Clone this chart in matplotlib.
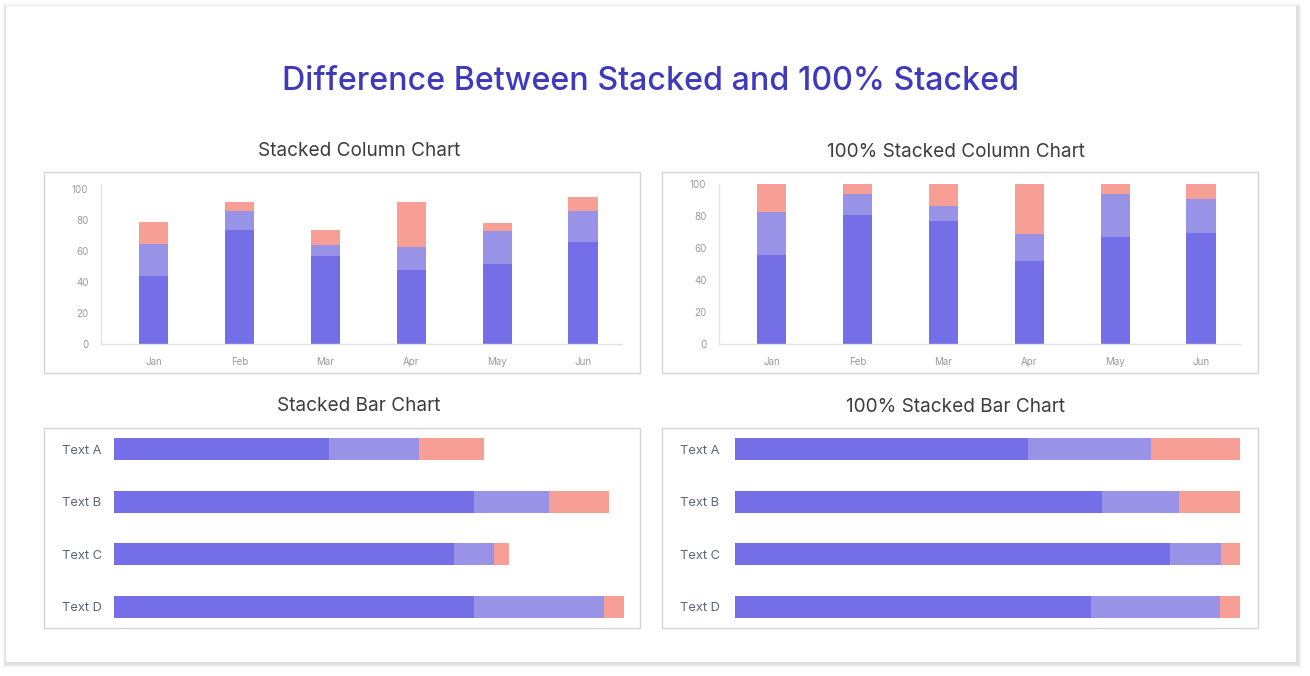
import matplotlib.pyplot as plt
import numpy as np
from matplotlib.patches import Rectangle

plt.rcParams['font.family'] = ['Inter', 'DejaVu Sans']

months = ["Jan", "Feb", "Mar", "Apr", "May", "Jun"]
col_s1 = [44, 74, 57, 48, 52, 66]
col_s2 = [21, 12, 7, 15, 21, 20]
col_s3 = [14, 6, 10, 29, 5, 9]

rows = ["Text A", "Text B", "Text C", "Text D"]
bar_s1 = [43, 72, 68, 72]
bar_s2 = [18, 15, 8, 26]
bar_s3 = [13, 12, 3, 4]

C1 = "#746FE6"
C2 = "#9893E7"
C3 = "#F79F95"
TITLE_C = "#3F3ABD"

W, H = 1310, 676
fig = plt.figure(figsize=(W / 100, H / 100), dpi=100)
fig.patch.set_facecolor("white")


def box(l, t, r, b):
    # pixel box -> figure fraction [x, y, w, h]
    return [l / W, 1 - b / H, (r - l) / W, (b - t) / H]


# card shadow and card
for i, a in enumerate([0.05, 0.035, 0.025, 0.015]):
    d = i + 1
    fig.patches.append(Rectangle(((6 - d) / W, 1 - (662 + d + 2) / H), (1290 + 2 * d + 2) / W, (656 + 2 * d + 1) / H,
                                 transform=fig.transFigure, facecolor="black", alpha=a,
                                 edgecolor="none", zorder=-2))
fig.patches.append(Rectangle((6 / W, 1 - 662 / H), 1290 / W, 656 / H, transform=fig.transFigure,
                             facecolor="white", edgecolor="none", zorder=-1))

fig.text(651 / W, 1 - 82 / H, "Difference Between Stacked and 100% Stacked", ha="center", va="center",
         fontsize=23.2, color=TITLE_C, fontweight="medium")

subtitles = [(359, 151, "Stacked Column Chart"), (956, 152, "100% Stacked Column Chart"),
             (359, 406, "Stacked Bar Chart"), (956, 407, "100% Stacked Bar Chart")]
for px, py, s in subtitles:
    fig.text(px / W, 1 - py / H, s, ha="center", va="center", fontsize=13.7, color="#3d3d3d")

# panel frames
for l, t, r, b in [(44, 172, 640, 373), (662, 172, 1258, 373), (44, 428, 640, 628), (662, 428, 1258, 628)]:
    fig.patches.append(Rectangle((l / W, 1 - b / H), (r - l) / W, (b - t) / H, transform=fig.transFigure,
                                 facecolor="none", edgecolor="#d4d4d4", linewidth=1, zorder=0))

s1 = np.array(col_s1, float)
s2 = np.array(col_s2, float)
s3 = np.array(col_s3, float)
tot = s1 + s2 + s3
x = np.arange(len(months))


def column_chart(ax, a, b, c, ymax):
    ax.bar(x, a, width=0.34, color=C1)
    ax.bar(x, b, width=0.34, bottom=a, color=C2)
    ax.bar(x, c, width=0.34, bottom=a + b, color=C3)
    ax.set_xlim(-0.614, 5.455)
    ax.set_ylim(0, ymax)
    ax.set_yticks([0, 20, 40, 60, 80, 100])
    ax.set_xticks(x)
    ax.set_xticklabels(months)
    for sp in ["top", "right"]:
        ax.spines[sp].set_visible(False)
    for sp in ["left", "bottom"]:
        ax.spines[sp].set_color("#e4e4e4")
        ax.spines[sp].set_linewidth(1)
    ax.tick_params(length=0, labelsize=7, labelcolor="#9a9a9a")
    ax.tick_params(axis="y", pad=9)
    ax.tick_params(axis="x", pad=9)
    ax.set_facecolor("none")
    ax.set_zorder(2)


ax1 = fig.add_axes(box(101, 184, 622, 344))
column_chart(ax1, s1, s2, s3, 103.5)

ax2 = fig.add_axes(box(719, 184, 1240, 344))
column_chart(ax2, s1 / tot * 100, s2 / tot * 100, s3 / tot * 100, 100)

b1 = np.array(bar_s1, float)
b2 = np.array(bar_s2, float)
b3 = np.array(bar_s3, float)
btot = b1 + b2 + b3
y = np.arange(len(rows))


def bar_chart(ax, a, b, c, xmax, pad):
    ax.barh(y, a, height=0.42, color=C1)
    ax.barh(y, b, height=0.42, left=a, color=C2)
    ax.barh(y, c, height=0.42, left=a + b, color=C3)
    ax.set_xlim(0, xmax)
    ax.set_ylim(3.5, -0.5)
    ax.set_yticks(y)
    ax.set_yticklabels(rows)
    for lab in ax.get_yticklabels():
        lab.set_ha("left")
    ax.set_xticks([])
    for sp in ax.spines.values():
        sp.set_visible(False)
    ax.tick_params(length=0, labelsize=9.3, labelcolor="#5d6676", pad=pad)
    ax.set_facecolor("none")
    ax.set_zorder(2)


ax3 = fig.add_axes(box(114, 422.75, 624, 633))
bar_chart(ax3, b1, b2, b3, 102, 37.4)

ax4 = fig.add_axes(box(735, 422.75, 1240, 633))
bar_chart(ax4, b1 / btot * 100, b2 / btot * 100, b3 / btot * 100, 100, 39.6)

fig.savefig("out.png", dpi=100, facecolor=fig.get_facecolor())
plt.close(fig)
